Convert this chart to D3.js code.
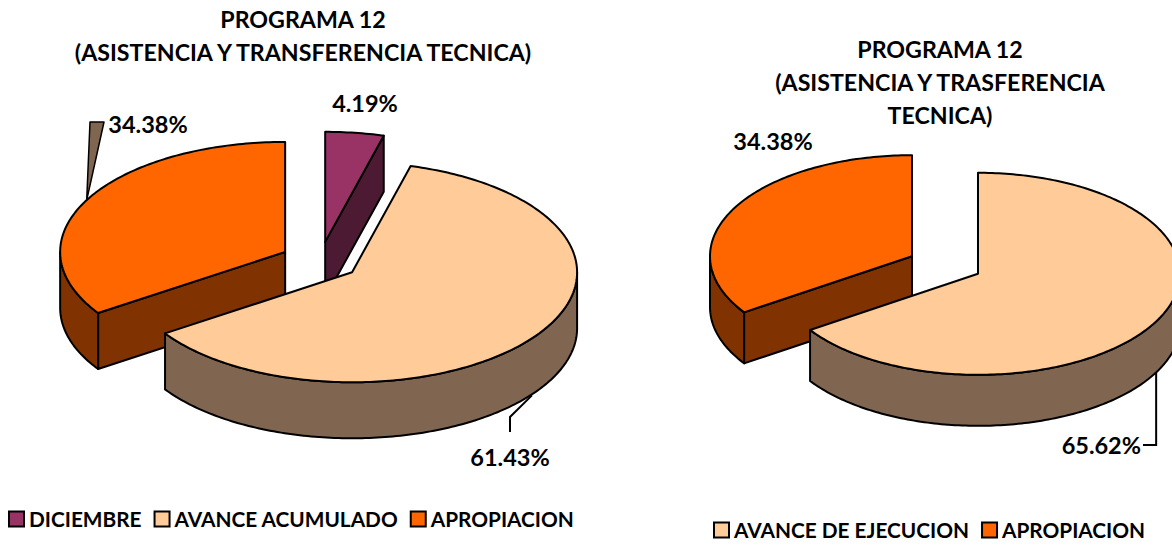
<!DOCTYPE html>
<html lang="es">
<head>
<meta charset="utf-8">
<title>Programa 12</title>
<script src="https://cdn.jsdelivr.net/npm/d3@7"></script>
<style>
  body { margin: 0; background: #fff; }
  svg { display: block; }
  text { font-family: Lato, "Open Sans", sans-serif; font-weight: bold; fill: #000; }
</style>
</head>
<body>
<script>
// data
var leftCategories = ["DICIEMBRE", "AVANCE ACUMULADO", "APROPIACION"];
var leftValues = [4.19, 61.43, 34.38];
var leftLabels = ["4.19%", "61.43%", "34.38%"];

var rightCategories = ["AVANCE DE EJECUCION", "APROPIACION"];
var rightValues = [65.62, 34.38];
var rightLabels = ["65.62%", "34.38%"];

var topColors = {
  "DICIEMBRE": "#993366",
  "AVANCE ACUMULADO": "#FFCC99",
  "AVANCE DE EJECUCION": "#FFCC99",
  "APROPIACION": "#FF6600"
};
var sideColors = {
  "DICIEMBRE": "#4D1A33",
  "AVANCE ACUMULADO": "#806650",
  "AVANCE DE EJECUCION": "#806650",
  "APROPIACION": "#803300"
};

var w = 1172, h = 545;

var svg = d3.select("body").append("svg")
  .attr("width", w)
  .attr("height", h);

// point on the ellipse, angle clockwise from 12 o'clock
function pt(cx, cy, rx, ry, a) {
  return [cx + rx * Math.sin(a), cy - ry * Math.cos(a)];
}
function arcPts(cx, cy, rx, ry, a0, a1) {
  var n = Math.max(2, Math.ceil(Math.abs(a1 - a0) / (Math.PI / 180)));
  var out = [];
  for (var i = 0; i <= n; i++) out.push(pt(cx, cy, rx, ry, a0 + (a1 - a0) * i / n));
  return out;
}
function poly(points) {
  return "M" + points.map(function(p) { return p[0].toFixed(2) + "," + p[1].toFixed(2); }).join("L") + "Z";
}

function drawPie(g, cats, vals, o) {
  var pie = d3.pie().sort(null).value(function(d) { return d; });
  var arcs = pie(vals);
  var slices = arcs.map(function(d, i) {
    var mid = (d.startAngle + d.endAngle) / 2;
    return {
      cat: cats[i], a0: d.startAngle, a1: d.endAngle, mid: mid,
      cx: o.cx + o.explode * Math.sin(mid),
      cy: o.cy - o.explode * o.ry / o.rx * Math.cos(mid)
    };
  });
  // back to front
  var order = slices.slice().sort(function(a, b) { return (-Math.cos(a.mid)) - (-Math.cos(b.mid)); });

  order.forEach(function(s) {
    var sg = g.append("g")
      .attr("stroke", "#000").attr("stroke-width", 2).attr("stroke-linejoin", "round");
    var c = [s.cx, s.cy], cd = [s.cx, s.cy + o.depth];

    function face(a) {
      var p = pt(s.cx, s.cy, o.rx, o.ry, a);
      sg.append("path").attr("d", poly([c, p, [p[0], p[1] + o.depth], cd]))
        .attr("fill", sideColors[s.cat]);
    }
    if (Math.sin(s.a0) < -1e-6) face(s.a0);
    if (Math.sin(s.a1) > 1e-6) face(s.a1);

    // outer wall, front half only
    var b0 = Math.max(s.a0, Math.PI / 2), b1 = Math.min(s.a1, 3 * Math.PI / 2);
    if (b1 > b0) {
      var topA = arcPts(s.cx, s.cy, o.rx, o.ry, b0, b1);
      var botA = arcPts(s.cx, s.cy + o.depth, o.rx, o.ry, b1, b0);
      sg.append("path").attr("d", poly(topA.concat(botA)))
        .attr("fill", sideColors[s.cat]);
    }

    // top
    sg.append("path").attr("d", poly([c].concat(arcPts(s.cx, s.cy, o.rx, o.ry, s.a0, s.a1))))
      .attr("fill", topColors[s.cat]);
  });
  return slices;
}

function title(lines, x, y0, dy) {
  svg.selectAll(null).data(lines).enter().append("text")
    .attr("x", x).attr("y", function(d, i) { return y0 + i * dy; })
    .attr("text-anchor", "middle").attr("font-size", "23.2px")
    .text(function(d) { return d; });
}

function legend(cats, x0, y, gap) {
  var x = x0;
  cats.forEach(function(c, i) {
    svg.append("rect").attr("x", x + 1).attr("y", y - 7.5).attr("width", 15).attr("height", 15)
      .attr("fill", topColors[c]).attr("stroke", "#000").attr("stroke-width", 2);
    var t = svg.append("text").attr("x", x + 21).attr("y", y + 7.5)
      .attr("font-size", "20.8px").text(c);
    x = x + 21 + t.node().getComputedTextLength() + gap;
  });
}

function label(txt, x, y, anchor) {
  svg.append("text").attr("x", x).attr("y", y + 8.5).attr("text-anchor", anchor || "middle")
    .attr("font-size", "23.5px").text(txt);
}

// ---- left chart
title(["PROGRAMA 12", "(ASISTENCIA Y TRANSFERENCIA TECNICA)"], 303, 28, 33);
var L = { cx: 320, cy: 261, rx: 225, ry: 110, depth: 56, explode: 39.5 };
var ls = drawPie(svg.append("g"), leftCategories, leftValues, L);

// 4.19%
label(leftLabels[0], 365, 103);
// 61.43% with leader from the side bottom edge
var sA = ls[1];
var pA = pt(sA.cx, sA.cy + L.depth, L.rx, L.ry, sA.mid);
svg.append("path").attr("d", "M" + (pA[0] - 3) + "," + (pA[1] + 3) + "L510,417L510,432")
  .attr("fill", "none").attr("stroke", "#000").attr("stroke-width", 2);
label(leftLabels[1], 510, 457);
// 34.38% with the wedge leader
var sO = ls[2];
var pO = pt(sO.cx, sO.cy, L.rx, L.ry, sO.mid);
svg.append("path").attr("d", poly([pO, [90, 122], [104, 122]]))
  .attr("fill", "#806650").attr("stroke", "#000").attr("stroke-width", 1.5)
  .attr("stroke-linejoin", "round");
label(leftLabels[2], 148, 124);

legend(leftCategories, 8, 519, 12);

// ---- right chart
title(["PROGRAMA 12", "(ASISTENCIA Y TRASFERENCIA", "TECNICA)"], 940, 58, 33);
var R = { cx: 945, cy: 265, rx: 202, ry: 101, depth: 51, explode: 37.4 };
var rs = drawPie(svg.append("g"), rightCategories, rightValues, R);

var sE = rs[0];
var pE = pt(sE.cx, sE.cy + R.depth, R.rx, R.ry, sE.mid);
svg.append("path").attr("d", "M" + pE[0] + "," + pE[1] + "L" + pE[0] + ",445L1143,445")
  .attr("fill", "none").attr("stroke", "#000").attr("stroke-width", 2);
label(rightLabels[0], 1141, 445, "end");
label(rightLabels[1], 773, 141);

legend(rightCategories, 713, 530, 12);
</script>
</body>
</html>
